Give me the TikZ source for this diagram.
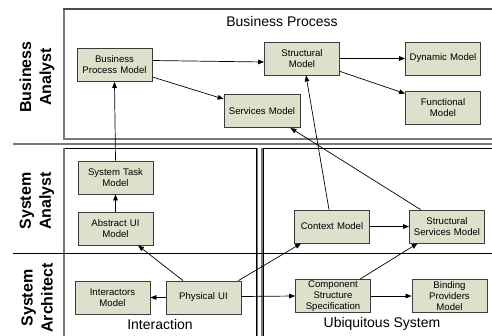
\documentclass[tikz,border=0pt]{standalone}
\usepackage{fontspec}
\setmainfont{Liberation Sans}
\usetikzlibrary{arrows.meta,calc}
\definecolor{boxfill}{RGB}{221,224,203}
\definecolor{boxline}{RGB}{60,60,60}
\definecolor{framegray}{RGB}{120,120,120}
\begin{document}
\begin{tikzpicture}[x=1pt,y=-1pt,
  model/.style={draw=boxline, fill=boxfill, line width=0.8pt,
    minimum width=75pt, minimum height=33pt, inner sep=1pt,
    align=center, text width=72pt, font=\fontsize{9.6}{11}\selectfont},
  arr/.style={-{Triangle[length=6pt,width=4.6pt]}, line width=0.7pt, black},
  frame/.style={draw=framegray, line width=1.5pt},
  laneline/.style={line width=0.8pt},
  lanelabel/.style={rotate=90, align=center, font=\fontsize{16}{20}\selectfont\bfseries},
  title/.style={font=\fontsize{14}{16}\selectfont}]

\useasboundingbox (0,0) rectangle (492,335);
\clip (0,0) rectangle (492,335);

% swim-lane frames
\draw[frame] (500,139) -- (64,139) -- (64,9);
\draw[draw=black!70, line width=1.6pt] (63.2,9) -- (500,9);
\draw[framegray, line width=1.2pt] (13,144) -- (500,144);
\draw[frame] (64,340) -- (64,148);
\draw[frame] (257,148) -- (257,340);
\draw[frame] (262,340) -- (262,148);
\draw[laneline] (64.7,148) -- (256,148) -- (256,340);
\draw[laneline] (263,340) -- (263,148) -- (500,148);
\draw[laneline] (13,253) -- (500,253);

% lane and area labels
\node[lanelabel] (laneBA) at (37,77) {Business\\Analyst};
\node[lanelabel] (laneSA) at (37,201) {System\\Analyst};
\node[lanelabel] (laneAR) at (37,298) {System\\Architect};
\node[title] (tBP) at (282,21) {Business Process};
\node[title] (tIA) at (160,324) {Interaction};
\node[title] (tUS) at (382,324) {Ubiquitous System};

% models
\node[model] (bpm) at (114.5,65)   {Business\\Process Model};
\node[model] (sm)  at (302,58.5)   {Structural\\Model};
\node[model] (dm)  at (443,58.5)   {Dynamic Model};
\node[model] (fm)  at (443,107.5)  {Functional\\Model};
\node[model, minimum width=76pt] (svc) at (262,111) {Services Model};
\node[model] (stm) at (115.5,177.5) {System Task\\Model};
\node[model] (aui) at (115.5,228.5) {Abstract UI\\Model};
\node[model] (im)  at (112.5,297.5) {Interactors\\Model};
\node[model] (pui) at (203.5,297.5) {Physical UI};
\node[model] (cm)  at (332,226.5)  {Context Model};
\node[model] (ssm) at (447,226.5)  {Structural\\Services Model};
\node[model] (css) at (333,296)    {Component\\Structure\\Specification};
\node[model] (bpr) at (449.5,296)  {Binding\\Providers\\Model};

% dependencies
\draw[arr] ($(bpm.east)+(0,-4.5)$) -- ($(sm.west)+(0,3.5)$);
\draw[arr] ($(bpm.east)+(0,12)$) -- ($(svc.west)+(0,-12)$);
\draw[arr] (sm.east) -- (dm.west);
\draw[arr] ($(sm.south east)+(0,-4)$) -- ($(fm.north west)+(0,3)$);
\draw[arr] (stm.north) -- (bpm.south);
\draw[arr] (aui.north) -- (stm.south);
\draw[arr] ($(pui.north)+(-20.5,0)$) -- ($(aui.south)+(22.5,0)$);
\draw[arr] (pui.west) -- (im.east);
\draw[arr] ($(pui.east)+(0,-1)$) -- (css.west);
\draw[arr] ($(pui.north east)+(-3,0)$) -- ($(cm.south west)+(7,0)$);
\draw[arr] (cm.east) -- (ssm.west);
\draw[arr] ($(css.north)+(27,0)$) -- ($(ssm.south west)+(8.5,0)$);
\draw[arr] (css.east) -- (bpr.west);
\draw[arr] ($(cm.north)+(-3,0)$) -- ($(sm.south)+(4,0)$);
\draw[arr] ($(ssm.north west)+(11.5,0)$) -- ($(svc.south east)+(-10,0)$);
\end{tikzpicture}
\end{document}
